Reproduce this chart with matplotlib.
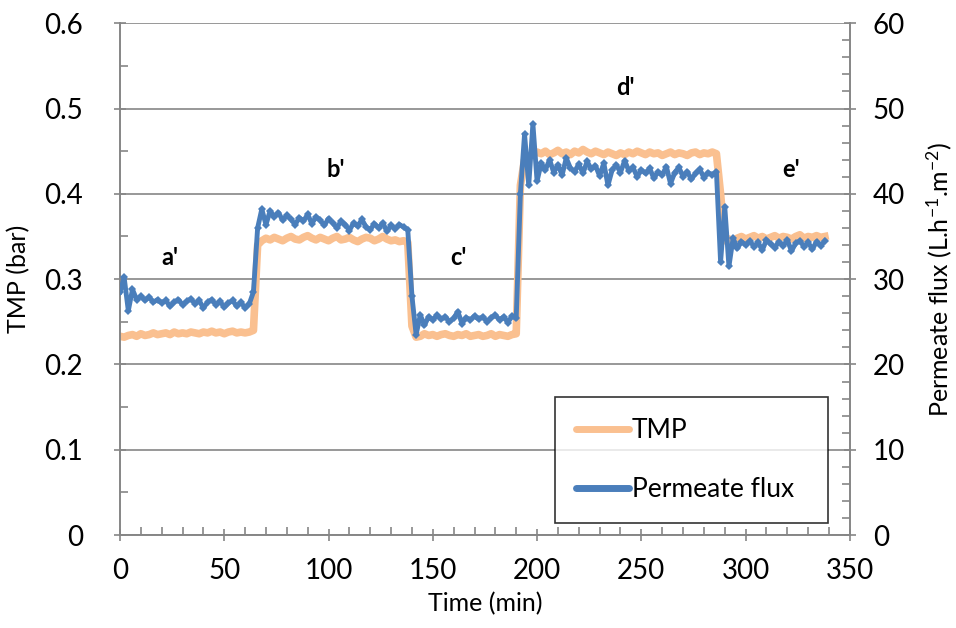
import numpy as np
import matplotlib
matplotlib.use("Agg")
import matplotlib.pyplot as plt
from matplotlib.lines import Line2D
from matplotlib.ticker import MultipleLocator

plt.rcParams['font.family'] = ['Lato', 'DejaVu Sans']
plt.rcParams['mathtext.default'] = 'regular'

# time (min), sampled every 2 min
time_min = list(range(0, 340, 2))

# TMP (bar)
tmp_bar = [
    # a'
    0.233, 0.232, 0.234, 0.235, 0.233, 0.236, 0.234, 0.235, 0.237, 0.235, 0.236, 0.237, 0.235, 0.238, 0.236, 0.237,
    0.236, 0.238, 0.237, 0.236, 0.238, 0.237, 0.239, 0.237, 0.238, 0.236, 0.238, 0.239, 0.237, 0.238, 0.237, 0.238,
    0.240, 0.340,
    # b'
    0.345, 0.348, 0.346, 0.349, 0.347, 0.345, 0.348, 0.350, 0.347, 0.346, 0.349, 0.351, 0.348, 0.346, 0.349, 0.347,
    0.345, 0.348, 0.350, 0.346, 0.347, 0.349, 0.346, 0.344, 0.347, 0.349, 0.348, 0.345, 0.347, 0.350, 0.347, 0.345,
    0.346, 0.344, 0.345,
    0.343, 0.245, 0.232,
    # c'
    0.233, 0.236, 0.234, 0.235, 0.233, 0.235, 0.236, 0.234, 0.233, 0.235, 0.234, 0.236, 0.233, 0.234, 0.235, 0.233,
    0.234, 0.236, 0.233, 0.235, 0.234, 0.233, 0.235,
    0.236, 0.410, 0.440,
    # d'
    0.443, 0.446, 0.449, 0.447, 0.450, 0.446, 0.448, 0.451, 0.447, 0.449, 0.446, 0.450, 0.448, 0.452, 0.449, 0.447,
    0.450, 0.448, 0.446, 0.449, 0.447, 0.445, 0.448, 0.446, 0.449, 0.447, 0.450, 0.448, 0.446, 0.449, 0.447, 0.448,
    0.445, 0.447, 0.449, 0.446, 0.448, 0.447, 0.445, 0.448, 0.449, 0.446, 0.448, 0.447, 0.449,
    0.447, 0.400, 0.345,
    # e'
    0.347, 0.345, 0.348, 0.350, 0.347, 0.349, 0.351, 0.348, 0.350, 0.347, 0.349, 0.351, 0.348, 0.350, 0.349, 0.347,
    0.350, 0.352, 0.348, 0.350, 0.349, 0.351, 0.349, 0.350,
]

# Permeate flux (L.h-1.m-2)
flux = [
    # a'
    28.5, 30.2, 26.3, 28.8, 27.6, 28.0, 27.5, 27.9, 27.3, 27.6, 27.2, 27.5, 26.8, 27.3, 27.6, 27.0,
    27.4, 27.7, 27.1, 27.5, 26.6, 27.3, 27.6, 27.0, 27.4, 26.7, 27.2, 27.5, 26.8, 27.3, 26.6, 27.1,
    28.5, 36.0,
    # b'
    38.2, 36.4, 38.0, 37.3, 37.8, 36.9, 37.5, 37.0, 36.4, 37.2, 36.8, 37.6, 36.5, 37.3, 36.9, 36.3,
    37.1, 36.6, 36.0, 36.8, 36.4, 35.7, 36.6, 36.2, 37.0, 36.1, 35.8, 36.5, 36.0, 36.6, 35.6, 36.3,
    35.9, 36.4, 36.1,
    35.8, 28.0, 23.5,
    # c'
    25.8, 24.6, 25.6, 25.2, 25.8, 25.3, 25.6, 25.0, 25.4, 26.2, 24.8, 25.5, 25.2, 25.7, 25.3, 25.6,
    25.0, 25.5, 25.8, 25.2, 25.6, 24.9, 25.7,
    25.4, 40.0, 47.0,
    # d'
    41.0, 48.2, 41.5, 43.6, 42.8, 44.0, 42.5, 43.4, 42.2, 44.2, 43.0, 42.6, 43.5, 42.4, 43.8, 42.9,
    43.3, 42.1, 43.6, 41.0, 42.8, 43.4, 42.5, 43.9, 42.7, 43.1, 42.0, 42.8, 42.4, 43.0, 41.8, 42.6,
    42.2, 43.2, 41.2, 42.5, 43.1, 42.0, 42.6, 41.7, 42.4, 42.9, 41.9, 42.5, 42.2,
    42.6, 32.0, 38.5,
    # e'
    31.5, 34.8, 33.6, 34.4, 34.0, 34.5, 33.8, 34.3, 33.4, 34.6, 34.1, 33.7, 34.4, 33.9, 34.6, 33.3,
    34.2, 34.5, 33.8, 34.3, 33.5, 34.4, 33.9, 34.5,
]

stage_labels = ["a'", "b'", "c'", "d'", "e'"]
stage_x = [24, 103.5, 162.5, 242.5, 322]
stage_y = [0.325, 0.428, 0.325, 0.525, 0.428]

TMP_COLOR = '#FAC090'
FLUX_COLOR = '#4A7EBB'
AXIS_COLOR = '#868686'

fig = plt.figure(figsize=(9.56, 6.28), dpi=100)
ax = fig.add_axes([0.1255, 0.148, 0.7635, 0.815])
ax2 = ax.twinx()

ax.plot(time_min, tmp_bar, color=TMP_COLOR, lw=5.5, solid_joinstyle='round', zorder=2)
ax2.plot(time_min, flux, color=FLUX_COLOR, lw=3.5, marker='D', ms=4, mew=0, zorder=3)

ax.set_xlim(0, 350)
ax.set_ylim(0, 0.6)
ax2.set_ylim(0, 60)

ax.xaxis.set_major_locator(MultipleLocator(50))
ax.xaxis.set_minor_locator(MultipleLocator(10))
ax.yaxis.set_major_locator(MultipleLocator(0.1))
ax.yaxis.set_minor_locator(MultipleLocator(0.05))
ax2.yaxis.set_major_locator(MultipleLocator(10))
ax2.yaxis.set_minor_locator(MultipleLocator(2))

ax.yaxis.grid(True, color=AXIS_COLOR, lw=1.2)
ax.set_axisbelow(True)

for a in (ax, ax2):
    for side, sp in a.spines.items():
        sp.set_color(AXIS_COLOR)
        sp.set_linewidth(1.2)
    a.spines['top'].set_visible(False)
    a.tick_params(which='major', direction='inout', length=9, width=1.2, color=AXIS_COLOR,
                  labelsize=20, labelcolor='black')
    a.tick_params(which='minor', direction='in', length=6, width=1.2, color=AXIS_COLOR)
ax.tick_params(axis='y', pad=22)
ax2.tick_params(axis='y', pad=12)
ax.tick_params(axis='x', pad=12)

ax.yaxis.set_major_formatter(plt.FuncFormatter(lambda v, p: '0' if v == 0 else f'{v:.1f}'))

ax.set_xlabel('Time (min)', fontsize=18, labelpad=6)
ax.set_ylabel('TMP (bar)', fontsize=18, labelpad=10)
ax2.set_ylabel('Permeate flux (L.h$^{-1}$.m$^{-2}$)', fontsize=18, labelpad=14)

for lab, x, y in zip(stage_labels, stage_x, stage_y):
    ax.text(x, y, lab, fontsize=17, fontweight='bold', ha='center', va='center')

handles = [Line2D([], [], color=TMP_COLOR, lw=5, solid_capstyle='round'),
           Line2D([], [], color=FLUX_COLOR, lw=5, solid_capstyle='round')]
leg = ax2.legend(handles, ['TMP', 'Permeate flux'], loc='lower left',
                 bbox_to_anchor=(0.596, 0.023, 0.374, 0.278), mode='expand',
                 fontsize=19, fancybox=False, frameon=True, edgecolor='black',
                 labelspacing=1.3, borderpad=0.8, handlelength=2.0, handletextpad=0.1,
                 borderaxespad=0)
leg.get_frame().set_linewidth(1.2)

fig.savefig('out.png', dpi=100)
